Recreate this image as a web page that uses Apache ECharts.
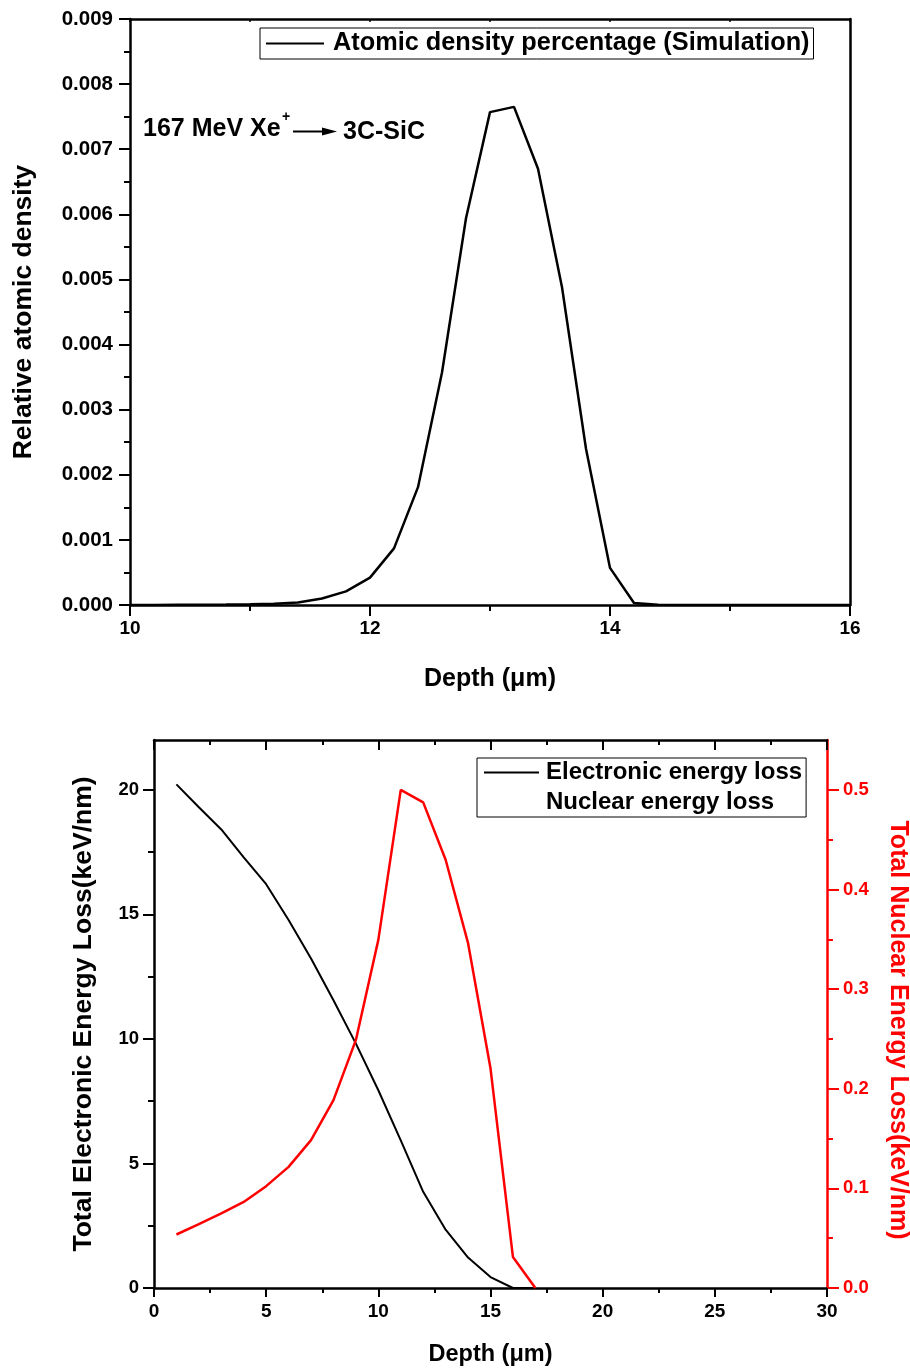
<!DOCTYPE html>
<html>
<head>
    <meta charset="utf-8">
    <title>Xe ion implantation in 3C-SiC</title>
    <script src="https://cdn.jsdelivr.net/npm/echarts@6/dist/echarts.min.js"></script>
    <style>
        html, body { margin: 0; padding: 0; background: #fff; }
        #chart { width: 910px; height: 1369px; }
    </style>
</head>
<body>
<div id="chart"></div>
<script>
    // top panel: implanted Xe profile
    var topDepth = [10, 10.2, 10.4, 10.6, 10.8, 11, 11.2, 11.4, 11.6, 11.8, 12, 12.2, 12.4, 12.6, 12.8,
        13, 13.2, 13.4, 13.6, 13.8, 14, 14.2, 14.4, 14.6, 14.8, 15, 15.2, 15.4, 15.6, 15.8, 16];
    var atomicDensity = [0, 0, 0.000002, 0.000004, 0.000007, 0.000012, 0.00002, 0.00004, 0.0001, 0.00021,
        0.00042, 0.00087, 0.00181, 0.00357, 0.00594, 0.00757, 0.00765, 0.0067, 0.00488, 0.0024,
        0.00057, 0.00003, 0.000005, 0, 0, 0, 0, 0, 0, 0, 0];

    // bottom panel: energy loss vs depth
    var lossDepth = [1, 2, 3, 4, 5, 6, 7, 8, 9, 10, 11, 12, 13, 14, 15, 16, 17];
    var electronicLoss = [20.22, 19.3, 18.41, 17.29, 16.21, 14.77, 13.23, 11.55, 9.81, 7.94, 5.93, 3.86, 2.34, 1.22, 0.44, 0, 0];
    var nuclearLoss = [0.0537, 0.064, 0.0748, 0.0864, 0.1022, 0.1216, 0.1484, 0.1886, 0.249, 0.3494, 0.5, 0.4874, 0.4298, 0.3461, 0.2205, 0.0312, 0];

    var elecTicks = [0, 5, 10, 15, 20];
    var nuclTicks = [0, 0.1, 0.2, 0.3, 0.4, 0.5];

    function pairs(xs, ys) {
        return xs.map(function (x, i) { return [x, ys[i]]; });
    }

    var FONT = '"Liberation Sans", Arial, sans-serif';
    var RED = '#ff0000';

    var myChart = echarts.init(document.getElementById('chart'));
    myChart.setOption({
        backgroundColor: '#fff',
        animation: false,
        grid: [
            {left: 130, top: 19, width: 720, height: 586, outerBoundsMode: 'none', containLabel: false},
            {left: 154, top: 740, width: 673, height: 548, outerBoundsMode: 'none', containLabel: false}
        ],
        legend: [
            {
                left: 260, top: 28,
                orient: 'horizontal',
                padding: [1, 4, 1, 5],
                borderColor: '#000', borderWidth: 1,
                itemWidth: 58, itemHeight: 14,
                itemStyle: {opacity: 0},
                data: ['Atomic density percentage (Simulation)'],
                textStyle: {fontFamily: FONT, fontWeight: 'bold', fontSize: 25.3, color: '#000', lineHeight: 29, padding: [0, 0, 0, 4]}
            },
            {
                left: 477, top: 758,
                orient: 'vertical',
                align: 'left',
                padding: [2, 4, 2, 6],
                itemGap: 5,
                borderColor: '#000', borderWidth: 1,
                itemWidth: 55, itemHeight: 14,
                itemStyle: {opacity: 0},
                data: ['Electronic energy loss',
                    {name: 'Nuclear energy loss', lineStyle: {opacity: 0}, itemStyle: {opacity: 0}}],
                textStyle: {fontFamily: FONT, fontWeight: 'bold', fontSize: 24, color: '#000', lineHeight: 25, padding: [0, 0, 0, 2]}
            }
        ],
        xAxis: [
            {
                gridIndex: 0, type: 'value', min: 10, max: 16, interval: 2,
                name: 'Depth (μm)', nameLocation: 'middle', nameGap: 62,
                nameTextStyle: {fontFamily: FONT, fontWeight: 'bold', fontSize: 25, color: '#000'},
                axisLine: {onZero: false, lineStyle: {color: '#000', width: 2.5}},
                axisTick: {inside: false, length: 11, lineStyle: {width: 2}},
                minorTick: {show: true, splitNumber: 2, length: 6, lineStyle: {color: '#000', width: 2}},
                axisLabel: {margin: 14, fontFamily: FONT, fontWeight: 'bold', fontSize: 19, color: '#000'},
                splitLine: {show: false}
            },
            {
                gridIndex: 0, type: 'value', position: 'top', min: 10, max: 16, interval: 1,
                axisLine: {onZero: false, lineStyle: {color: '#000', width: 2.5}},
                axisTick: {inside: true, length: 3, lineStyle: {width: 1.5}},
                axisLabel: {show: false},
                splitLine: {show: false}
            },
            {
                gridIndex: 1, type: 'value', min: 0, max: 30, interval: 5,
                name: 'Depth (μm)', nameLocation: 'middle', nameGap: 55,
                nameTextStyle: {fontFamily: FONT, fontWeight: 'bold', fontSize: 23.5, color: '#000'},
                axisLine: {onZero: false, lineStyle: {color: '#000', width: 2.5}},
                axisTick: {inside: false, length: 9, lineStyle: {width: 2}},
                minorTick: {show: true, splitNumber: 2, length: 5, lineStyle: {color: '#000', width: 2}},
                axisLabel: {margin: 14, fontFamily: FONT, fontWeight: 'bold', fontSize: 19, color: '#000'},
                splitLine: {show: false}
            },
            {
                gridIndex: 1, type: 'value', position: 'top', min: 0, max: 30, interval: 5,
                axisLine: {onZero: false, lineStyle: {color: '#000', width: 2.5}},
                axisTick: {inside: true, length: 10, lineStyle: {width: 2}},
                minorTick: {show: true, splitNumber: 2, length: 5, lineStyle: {color: '#000', width: 2}},
                axisLabel: {show: false},
                splitLine: {show: false}
            }
        ],
        yAxis: [
            {
                gridIndex: 0, type: 'value', min: 0, max: 0.009, interval: 0.001,
                name: 'Relative atomic density', nameLocation: 'middle', nameGap: 93, nameRotate: 90,
                nameTextStyle: {fontFamily: FONT, fontWeight: 'bold', fontSize: 26.5, color: '#000'},
                axisLine: {onZero: false, lineStyle: {color: '#000', width: 2.5}},
                axisTick: {inside: false, length: 11, lineStyle: {width: 2}},
                minorTick: {show: true, splitNumber: 2, length: 6, lineStyle: {color: '#000', width: 2}},
                axisLabel: {
                    margin: 17, fontFamily: FONT, fontWeight: 'bold', fontSize: 20.5, color: '#000',
                    formatter: function (v) { return v.toFixed(3); }
                },
                splitLine: {show: false}
            },
            {
                gridIndex: 0, type: 'value', position: 'right', min: 0, max: 0.009,
                axisLine: {show: true, onZero: false, lineStyle: {color: '#000', width: 2.5}},
                axisTick: {show: false},
                axisLabel: {show: false},
                splitLine: {show: false}
            },
            {
                gridIndex: 1, type: 'value', position: 'left', min: 0, max: 22, interval: 5,
                name: 'Total Electronic Energy Loss(keV/nm)', nameLocation: 'middle', nameGap: 57, nameRotate: 90,
                nameTextStyle: {fontFamily: FONT, fontWeight: 'bold', fontSize: 26.5, color: '#000'},
                axisLine: {onZero: false, lineStyle: {color: '#000', width: 2.5}},
                axisTick: {inside: false, length: 11, customValues: elecTicks, lineStyle: {width: 2}},
                minorTick: {show: true, splitNumber: 2, length: 6, lineStyle: {color: '#000', width: 2}},
                axisLabel: {margin: 15, customValues: elecTicks, fontFamily: FONT, fontWeight: 'bold', fontSize: 18.5, color: '#000'},
                splitLine: {show: false}
            },
            {
                gridIndex: 1, type: 'value', position: 'right', min: 0, max: 0.55, interval: 0.1,
                name: 'Total Nuclear Energy Loss(keV/nm)', nameLocation: 'middle', nameGap: 58, nameRotate: -90,
                nameTextStyle: {fontFamily: FONT, fontWeight: 'bold', fontSize: 25, color: RED, padding: [0, 0, 0, 32]},
                axisLine: {onZero: false, lineStyle: {color: RED, width: 2.5}},
                axisTick: {inside: false, length: 12, customValues: nuclTicks, lineStyle: {width: 2}},
                minorTick: {show: true, splitNumber: 2, length: 6, lineStyle: {color: RED, width: 2}},
                axisLabel: {
                    margin: 16, customValues: nuclTicks, fontFamily: FONT, fontWeight: 'bold', fontSize: 18.5, color: RED,
                    formatter: function (v) { return v.toFixed(1); }
                },
                splitLine: {show: false}
            }
        ],
        graphic: [
            {type: 'text', x: 143, y: 129, style: {text: '167 MeV Xe', font: 'bold 25px ' + FONT, fill: '#000', verticalAlign: 'middle'}},
            {type: 'text', x: 282, y: 117, style: {text: '+', font: 'bold 14px ' + FONT, fill: '#000', verticalAlign: 'middle'}},
            {type: 'line', shape: {x1: 293, y1: 131.5, x2: 325, y2: 131.5}, style: {stroke: '#000', lineWidth: 2}},
            {type: 'polygon', shape: {points: [[322, 127.5], [337, 131.5], [322, 135.5]]}, style: {fill: '#000'}},
            {type: 'text', x: 343, y: 132, style: {text: '3C-SiC', font: 'bold 25px ' + FONT, fill: '#000', verticalAlign: 'middle'}}
        ],
        series: [
            {
                name: 'Atomic density percentage (Simulation)',
                type: 'line', xAxisIndex: 0, yAxisIndex: 0,
                showSymbol: false, symbol: 'none',
                lineStyle: {color: '#000', width: 2.5},
                itemStyle: {color: '#000'},
                data: pairs(topDepth, atomicDensity)
            },
            {
                name: 'Electronic energy loss',
                type: 'line', xAxisIndex: 2, yAxisIndex: 2,
                showSymbol: false, symbol: 'none',
                lineStyle: {color: '#000', width: 2},
                itemStyle: {color: '#000'},
                data: pairs(lossDepth, electronicLoss)
            },
            {
                name: 'Nuclear energy loss',
                type: 'line', xAxisIndex: 2, yAxisIndex: 3,
                showSymbol: false, symbol: 'none',
                lineStyle: {color: RED, width: 2.5},
                itemStyle: {color: RED},
                data: pairs(lossDepth, nuclearLoss)
            }
        ]
    });
</script>
</body>
</html>
